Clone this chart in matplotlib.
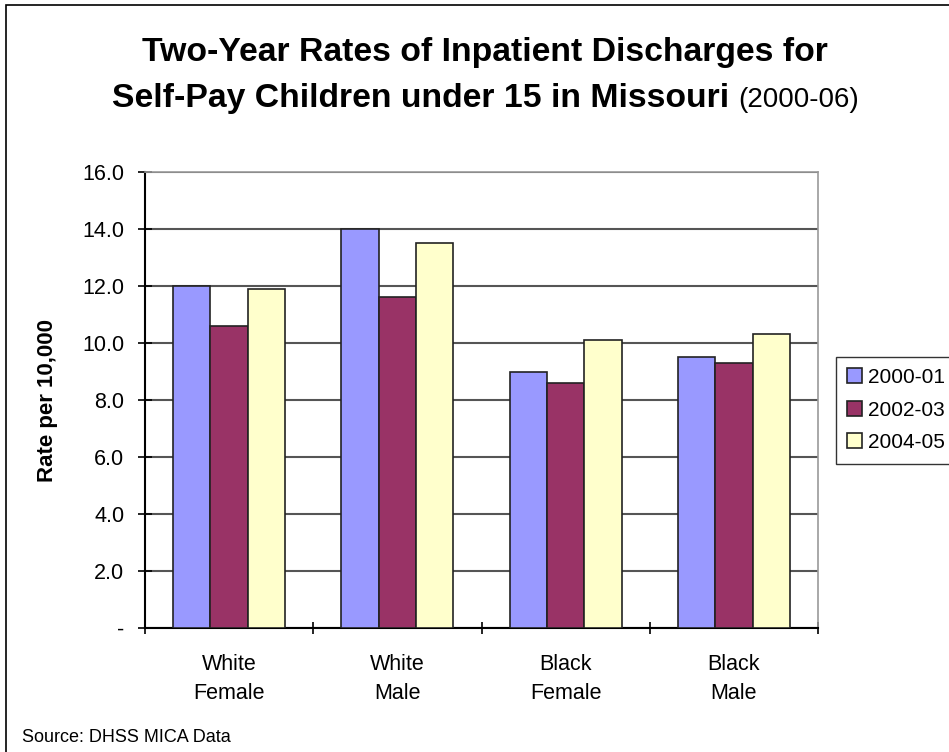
import matplotlib.pyplot as plt
import numpy as np
from matplotlib.patches import Rectangle

plt.rcParams['font.family'] = ['Liberation Sans', 'DejaVu Sans']

groups = ['White\nFemale', 'White\nMale', 'Black\nFemale', 'Black\nMale']
periods = ['2000-01', '2002-03', '2004-05']
rate_2000_01 = [12.0, 14.0, 9.0, 9.5]
rate_2002_03 = [10.6, 11.6, 8.6, 9.3]
rate_2004_05 = [11.9, 13.5, 10.1, 10.3]
colors = ['#9999ff', '#993366', '#ffffcc']

fig = plt.figure(figsize=(9.49, 7.52), dpi=100)
ax = fig.add_axes([145 / 949, 1 - 628 / 752, 673 / 949, 456 / 752])

x = np.arange(len(groups))
w = 0.222
for i, (vals, lab) in enumerate(zip([rate_2000_01, rate_2002_03, rate_2004_05], periods)):
    ax.bar(x + (i - 1) * w, vals, w, color=colors[i], edgecolor='#222222',
           linewidth=1.2, label=lab, zorder=3)

ax.set_xlim(-0.5, 3.5)
ax.set_ylim(0, 16)
yt = np.arange(0, 17, 2)
ax.set_yticks(yt)
ax.set_yticklabels(['-'] + [f'{v:.1f}' for v in yt[1:]], fontsize=15.5)
ax.yaxis.grid(True, color='#555555', linewidth=1.5, zorder=0)
ax.tick_params(axis='y', direction='inout', length=10, width=1.2, pad=10)

# category labels centred, ticks on the group boundaries
ax.set_xticks(x)
ax.set_xticklabels(groups, fontsize=15.5, linespacing=1.45)
ax.tick_params(axis='x', length=0, pad=19)
ax.set_xticks(np.arange(-0.5, 4.0, 1.0), minor=True)
ax.tick_params(axis='x', which='minor', direction='inout', length=8, width=1.2)

for s in ['top', 'right']:
    ax.spines[s].set_color('#999999')
    ax.spines[s].set_linewidth(1.2)
for s in ['left', 'bottom']:
    ax.spines[s].set_color('black')
    ax.spines[s].set_linewidth(1.5)

ax.set_ylabel('Rate per 10,000', fontsize=16, fontweight='bold', labelpad=17)

leg = ax.legend(loc='center left', bbox_to_anchor=(836 / 949, 1 - 410 / 752),
                bbox_transform=fig.transFigure, fontsize=15, frameon=True,
                fancybox=False, edgecolor='black', handlelength=0.7,
                handleheight=0.7, handletextpad=0.3, labelspacing=0.65,
                borderpad=0.55, borderaxespad=0)
leg.get_frame().set_linewidth(1.0)

fig.text(485 / 949, 1 - 52 / 752, 'Two-Year Rates of Inpatient Discharges for',
         ha='center', va='center', fontsize=24.3, fontweight='bold')
fig.text(729 / 949, 1 - 99 / 752, 'Self-Pay Children under 15 in Missouri',
         ha='right', va='center', fontsize=24.3, fontweight='bold')
fig.text(738 / 949, 1 - 100 / 752, '(2000-06)', ha='left', va='center', fontsize=20)

fig.text(22 / 949, 1 - 737 / 752, 'Source: DHSS MICA Data', ha='left',
         va='center', fontsize=13)

fig.patches.append(Rectangle((6 / 949, -0.01), 1.0, 1 - 5 / 752 + 0.01,
                             transform=fig.transFigure, fill=False,
                             edgecolor='black', linewidth=1.2))

fig.savefig('out.png', dpi=100)
